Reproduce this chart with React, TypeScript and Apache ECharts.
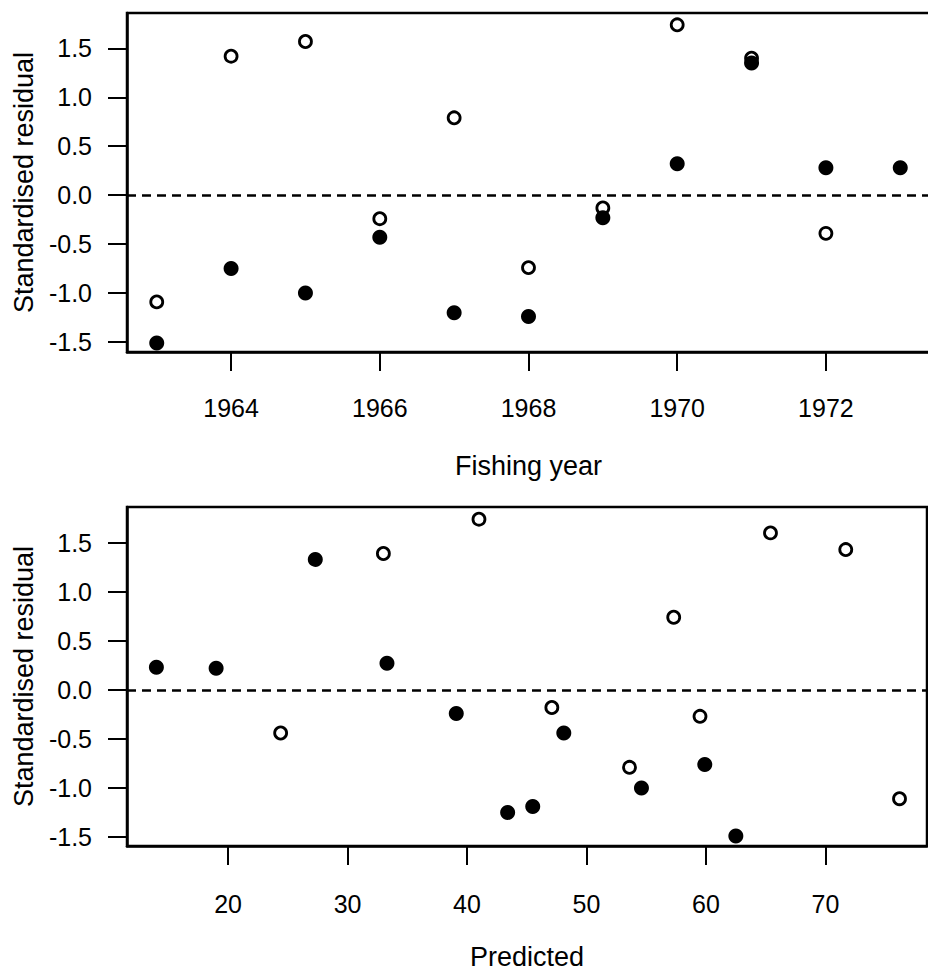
import { useEffect, useRef } from "react";
import * as echarts from "echarts";

// Axis tick positions
const yearTicks = [1964, 1966, 1968, 1970, 1972];
const predictedTicks = [20, 30, 40, 50, 60, 70];
const residualTicks = [-1.5, -1, -0.5, 0, 0.5, 1, 1.5];

// Residuals by fishing year
const yearsOpen = [1963, 1964, 1965, 1966, 1967, 1968, 1969, 1970, 1971, 1972];
const residOpenByYear = [-1.09, 1.42, 1.57, -0.24, 0.79, -0.74, -0.13, 1.74, 1.4, -0.39];
const yearsFilled = [1963, 1964, 1965, 1966, 1967, 1968, 1969, 1970, 1971, 1972, 1973];
const residFilledByYear = [-1.51, -0.75, -1.0, -0.43, -1.2, -1.24, -0.23, 0.32, 1.35, 0.28, 0.28];

// Residuals against predicted values
const predictedOpen = [24.4, 33.0, 41.0, 47.1, 53.6, 57.3, 59.5, 65.4, 71.7, 76.2];
const residOpenByPred = [-0.44, 1.39, 1.74, -0.18, -0.79, 0.74, -0.27, 1.6, 1.43, -1.11];
const predictedFilled = [14.0, 19.0, 27.3, 33.3, 39.1, 43.4, 45.5, 48.1, 54.6, 59.9, 62.5];
const residFilledByPred = [0.23, 0.22, 1.33, 0.27, -0.24, -1.25, -1.19, -0.44, -1.0, -0.76, -1.49];

const FONT = "Liberation Sans, Arial, Helvetica, sans-serif";
const BLACK = "#000";

const zip = (xs: number[], ys: number[]) => xs.map((x, i) => [x, ys[i]]);

function xAxisFor(
  gridIndex: number,
  min: number,
  max: number,
  ticks: number[],
  name: string,
  labelMargin: number,
  nameGap: number
) {
  return {
    type: "value",
    gridIndex,
    min,
    max,
    splitLine: { show: false },
    axisLine: { show: true, onZero: false, lineStyle: { color: BLACK, width: 2.5 } },
    axisTick: { show: true, length: 19, customValues: ticks, lineStyle: { color: BLACK, width: 2 } },
    axisLabel: {
      customValues: ticks,
      margin: labelMargin,
      color: BLACK,
      fontSize: 25,
      fontFamily: FONT,
      formatter: (v: number) => String(v),
    },
    name,
    nameLocation: "middle",
    nameGap,
    nameTextStyle: { color: BLACK, fontSize: 27, fontFamily: FONT },
  };
}

function yAxisFor(gridIndex: number, min: number, max: number) {
  return {
    type: "value",
    gridIndex,
    min,
    max,
    splitLine: { show: false },
    axisLine: { show: true, onZero: false, lineStyle: { color: BLACK, width: 2.5 } },
    axisTick: { show: true, length: 19, customValues: residualTicks, lineStyle: { color: BLACK, width: 2 } },
    axisLabel: {
      customValues: residualTicks,
      margin: 35,
      color: BLACK,
      fontSize: 25,
      fontFamily: FONT,
      formatter: (v: number) => v.toFixed(1),
    },
    name: "Standardised residual",
    nameLocation: "middle",
    nameGap: 90,
    nameTextStyle: { color: BLACK, fontSize: 27, fontFamily: FONT },
  };
}

const openStyle = {
  type: "scatter",
  symbol: "circle",
  symbolSize: 12,
  itemStyle: { color: "#fff", borderColor: BLACK, borderWidth: 2.8, opacity: 1 },
};

const filledStyle = {
  type: "scatter",
  symbol: "circle",
  symbolSize: 15,
  itemStyle: { color: BLACK, borderColor: BLACK, borderWidth: 0, opacity: 1 },
};

const zeroLine = {
  silent: true,
  symbol: ["none", "none"],
  label: { show: false },
  lineStyle: { color: BLACK, type: [9, 6], width: 2.5 },
  data: [{ yAxis: 0 }],
};

export default function App() {
  const ref = useRef<HTMLDivElement>(null);

  useEffect(() => {
    if (!ref.current) return;
    const chart = echarts.init(ref.current, null, { renderer: "svg" });

    const gridBase = {
      show: true,
      left: 127,
      height: 339,
      borderColor: BLACK,
      borderWidth: 2.5,
      backgroundColor: "transparent",
      containLabel: false,
      outerBoundsMode: "none",
    };

    const option: any = {
      animation: false,
      backgroundColor: "#fff",
      textStyle: { fontFamily: FONT },
      grid: [
        // upper panel runs past the right edge of the page
        { ...gridBase, top: 13, width: 803 },
        { ...gridBase, top: 507, width: 800 },
      ],
      xAxis: [
        xAxisFor(0, 1962.6, 1973.4, yearTicks, "Fishing year", 43, 100),
        xAxisFor(1, 11.54, 78.5, predictedTicks, "Predicted", 45, 97),
      ],
      yAxis: [yAxisFor(0, -1.602, 1.861), yAxisFor(1, -1.592, 1.864)],
      series: [
        {
          ...openStyle,
          name: "open-year",
          xAxisIndex: 0,
          yAxisIndex: 0,
          data: zip(yearsOpen, residOpenByYear),
          markLine: zeroLine,
        },
        {
          ...filledStyle,
          name: "filled-year",
          xAxisIndex: 0,
          yAxisIndex: 0,
          data: zip(yearsFilled, residFilledByYear),
        },
        {
          ...openStyle,
          name: "open-pred",
          xAxisIndex: 1,
          yAxisIndex: 1,
          data: zip(predictedOpen, residOpenByPred),
          markLine: zeroLine,
        },
        {
          ...filledStyle,
          name: "filled-pred",
          xAxisIndex: 1,
          yAxisIndex: 1,
          data: zip(predictedFilled, residFilledByPred),
        },
      ],
    };

    chart.setOption(option);
    return () => chart.dispose();
  }, []);

  return (
    <div
      ref={ref}
      style={{ position: "absolute", left: 0, top: 0, width: 928, height: 978, background: "#fff" }}
    />
  );
}
